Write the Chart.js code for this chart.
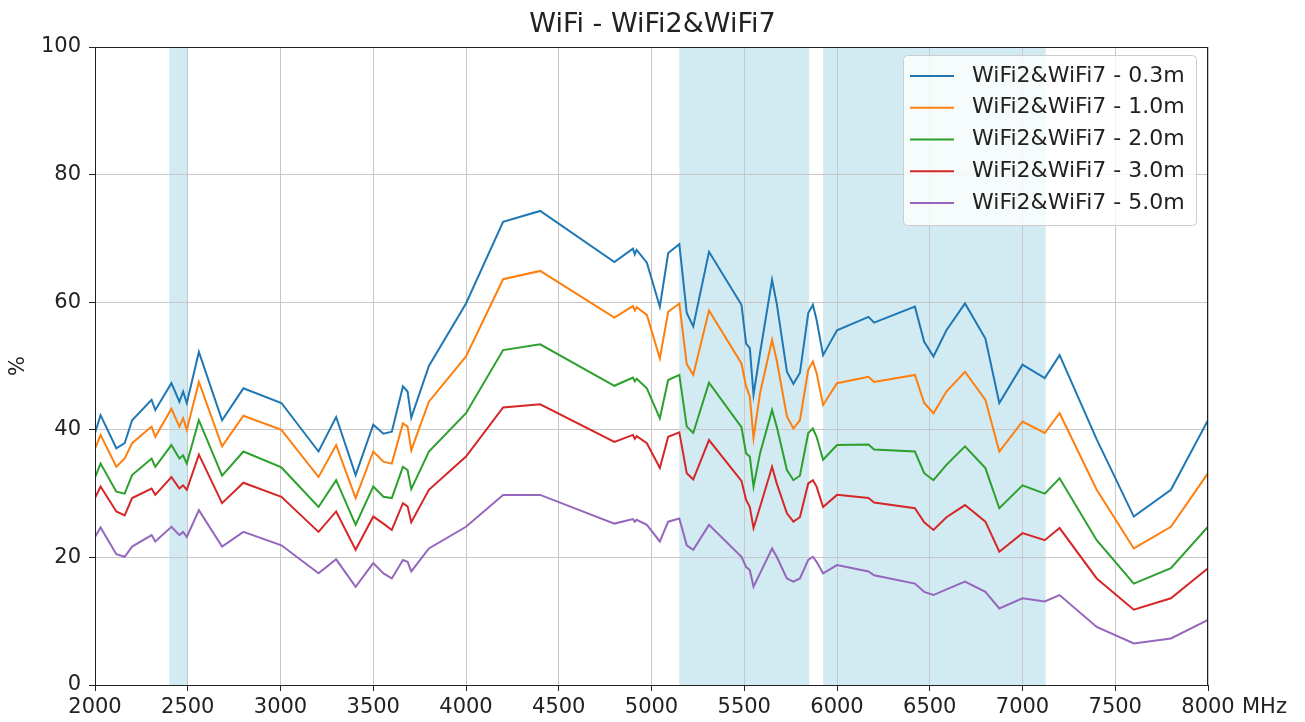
<!DOCTYPE html>
<html>
<head>
<meta charset="utf-8">
<script src="https://cdn.jsdelivr.net/npm/chart.js@4.4.1/dist/chart.umd.min.js"></script>
<style>
html,body{margin:0;padding:0;background:#fff;}
#wrap{width:1305px;height:722px;position:relative;}
</style>
</head>
<body>
<div id="wrap"><canvas id="c" width="1305" height="722"></canvas></div>
<script>
const freqs = [2000,2030,2115,2160,2200,2305,2325,2412,2455,2475,2495,2560,2685,2800,3005,3205,3300,3405,3500,3555,3600,3660,3685,3705,3800,4000,4200,4400,4800,4900,4910,4920,4975,5045,5090,5150,5190,5225,5310,5485,5510,5530,5550,5585,5650,5675,5730,5765,5800,5845,5870,5890,5925,6000,6170,6200,6420,6470,6520,6590,6690,6800,6875,7000,7120,7200,7400,7600,7800,8000];

const s03 = [39.5,42.3,37.1,37.9,41.5,44.7,43.1,47.3,44.4,46.0,44.2,52.2,41.5,46.5,44.2,36.6,42.0,32.9,40.8,39.4,39.7,46.8,46.0,41.9,50.0,59.8,72.6,74.3,66.3,68.4,67.5,68.2,66.2,59.3,67.7,69.1,58.3,56.2,67.9,59.6,53.5,52.8,45.5,52.0,63.5,59.8,49.1,47.2,48.9,58.3,59.6,57.2,51.7,55.6,57.7,56.8,59.3,53.8,51.5,55.6,59.8,54.3,44.2,50.2,48.1,51.7,38.5,26.4,30.6,41.5];
const s10 = [37.0,39.2,34.2,35.5,37.9,40.5,38.9,43.3,40.5,41.8,40.0,47.5,37.4,42.2,40.0,32.6,37.6,29.3,36.6,35.0,34.7,41.0,40.5,36.8,44.4,51.5,63.6,64.9,57.6,59.4,58.7,59.2,58.0,51.2,58.5,59.8,50.3,48.6,58.7,50.4,46.8,45.2,38.7,45.7,54.1,50.9,42.1,40.2,41.5,49.4,50.7,48.9,43.9,47.3,48.3,47.5,48.6,44.2,42.6,46.0,49.1,44.7,36.6,41.3,39.5,42.6,30.6,21.4,24.8,33.2];
const s20 = [32.5,34.7,30.3,30.0,32.9,35.5,34.2,37.6,35.5,36.0,34.7,41.5,32.8,36.6,34.1,27.9,32.1,25.1,31.1,29.5,29.3,34.2,33.7,30.7,36.6,42.6,52.5,53.4,46.9,48.2,47.6,48.0,46.5,41.8,47.8,48.6,40.5,39.5,47.4,40.4,36.3,35.8,31.1,36.3,43.1,40.5,33.7,32.1,32.8,39.5,40.2,38.9,35.3,37.6,37.7,36.9,36.6,33.2,32.1,34.5,37.4,34.0,27.7,31.3,30.0,32.4,22.7,15.9,18.3,24.8];
const s30 = [29.3,31.1,27.2,26.6,29.3,30.8,29.8,32.6,30.8,31.3,30.6,36.1,28.5,31.7,29.5,24.0,27.2,21.2,26.4,25.3,24.3,28.5,28.0,25.5,30.6,35.8,43.5,44.0,38.1,39.2,38.6,39.0,37.9,34.0,38.9,39.6,33.2,32.2,38.4,32.0,29.0,27.9,24.6,27.9,34.2,31.6,26.9,25.6,26.3,31.6,32.1,31.1,27.9,29.8,29.3,28.6,27.7,25.5,24.3,26.3,28.2,25.6,20.9,23.8,22.7,24.6,16.7,11.8,13.6,18.3];
const s50 = [23.2,24.7,20.5,20.1,21.7,23.5,22.5,24.8,23.5,24.0,23.2,27.4,21.7,24.0,21.9,17.5,19.7,15.4,19.1,17.5,16.7,19.6,19.3,17.8,21.4,24.8,29.8,29.8,25.3,26.0,25.6,25.9,25.1,22.5,25.6,26.1,21.9,21.2,25.1,20.1,18.5,18.0,15.4,17.5,21.4,20.1,16.7,16.2,16.7,19.6,20.1,19.3,17.5,18.8,17.8,17.2,15.9,14.6,14.1,15.0,16.2,14.6,12.0,13.6,13.1,14.1,9.1,6.5,7.3,10.2];

const seriesLabels = ['WiFi2&WiFi7 - 0.3m','WiFi2&WiFi7 - 1.0m','WiFi2&WiFi7 - 2.0m','WiFi2&WiFi7 - 3.0m','WiFi2&WiFi7 - 5.0m'];
const seriesValues = [s03, s10, s20, s30, s50];
const seriesColors = ['#1f77b4','#ff7f0e','#2ca02c','#d62728','#9467bd'];
const bands = [[2400,2500],[5150,5850],[5925,7125]];
const xTicks = [2000,2500,3000,3500,4000,4500,5000,5500,6000,6500,7000,7500,8000];
const yTicks = [0,20,40,60,80,100];

const FONT = "'DejaVu Sans', sans-serif";

const datasets = seriesValues.map((vals, i) => ({
  label: seriesLabels[i],
  data: freqs.map((f, j) => ({x: f, y: vals[j]})),
  borderColor: seriesColors[i],
  backgroundColor: seriesColors[i],
  borderWidth: 2,
  pointRadius: 0,
  tension: 0,
  fill: false
}));

const bandPlugin = {
  id: 'bands',
  beforeDraw(chart) {
    const {ctx, chartArea, scales} = chart;
    ctx.save();
    ctx.fillStyle = 'rgba(173,216,230,0.55)';
    bands.forEach(([a, b]) => {
      const x1 = scales.x.getPixelForValue(a);
      const x2 = scales.x.getPixelForValue(b);
      ctx.fillRect(x1, chartArea.top, x2 - x1, chartArea.bottom - chartArea.top);
    });
    ctx.restore();
  }
};

const framePlugin = {
  id: 'frame',
  afterDatasetsDraw(chart) {
    const {ctx, chartArea} = chart;
    ctx.save();
    ctx.strokeStyle = '#222';
    ctx.lineWidth = 1;
    ctx.strokeRect(chartArea.left + 0.5, chartArea.top + 0.5, chartArea.right - chartArea.left - 1, chartArea.bottom - chartArea.top);
    // unit label to the right of x axis
    ctx.fillStyle = '#222';
    ctx.font = '21px ' + FONT;
    ctx.textAlign = 'left';
    ctx.textBaseline = 'middle';
    ctx.fillText('MHz', chartArea.right + 34, 708);
    // legend
    const bx = 903, by = 55, bw = 293, bh = 170;
    ctx.fillStyle = 'rgba(255,255,255,0.8)';
    ctx.strokeStyle = '#cccccc';
    ctx.beginPath();
    ctx.roundRect(bx + 0.5, by + 0.5, bw, bh, 4);
    ctx.fill();
    ctx.stroke();
    chart.data.datasets.forEach((ds, i) => {
      const y = by + 21 + i * 31.75;
      ctx.strokeStyle = ds.borderColor;
      ctx.lineWidth = 2;
      ctx.beginPath();
      ctx.moveTo(910, y);
      ctx.lineTo(954, y);
      ctx.stroke();
      ctx.fillStyle = '#222';
      ctx.font = '22px ' + FONT;
      ctx.textAlign = 'left';
      ctx.textBaseline = 'middle';
      ctx.fillText(ds.label, 972, y);
    });
    ctx.restore();
  }
};

new Chart(document.getElementById('c'), {
  type: 'line',
  data: { datasets },
  plugins: [bandPlugin, framePlugin],
  options: {
    responsive: false,
    animation: false,
    layout: { padding: { left: 0, right: 0, top: 0, bottom: 0 } },
    plugins: {
      legend: { display: false },
      tooltip: { enabled: false },
      title: {
        display: true,
        text: 'WiFi - WiFi2&WiFi7',
        color: '#222',
        font: { family: FONT, size: 27, weight: 'normal' },
        padding: { top: 9, bottom: 5.6 }
      }
    },
    scales: {
      x: {
        type: 'linear',
        min: 2000, max: 8000,
        afterBuildTicks(scale) { scale.ticks = xTicks.map(v => ({value: v})); },
        afterFit(scale) { scale.height = 37; },
        ticks: {
          color: '#222',
          font: { family: FONT, size: 21 },
          padding: 4,
          maxRotation: 0,
          autoSkip: false,
          callback: v => String(v)
        },
        grid: { color: '#c8c8c8', lineWidth: 1, tickLength: 6, tickColor: '#222', drawTicks: true },
        border: { color: '#222', width: 1 }
      },
      y: {
        type: 'linear',
        min: 0, max: 100,
        afterBuildTicks(scale) { scale.ticks = yTicks.map(v => ({value: v})); },
        afterFit(scale) { scale.width = 95; },
        ticks: {
          color: '#222',
          font: { family: FONT, size: 21 },
          padding: 8,
          callback: v => String(v)
        },
        title: {
          display: true,
          text: '%',
          color: '#222',
          font: { family: FONT, size: 21 },
          padding: { top: 6, bottom: 0 }
        },
        grid: { color: '#c8c8c8', lineWidth: 1, tickLength: 6, tickColor: '#222', drawTicks: true },
        border: { color: '#222', width: 1 }
      },
      yr: {
        type: 'linear',
        position: 'right',
        display: true,
        min: 0, max: 100,
        afterFit(scale) { scale.width = 97; },
        ticks: { display: false },
        grid: { display: false, drawTicks: false },
        border: { display: false }
      }
    }
  }
});
</script>
</body>
</html>
